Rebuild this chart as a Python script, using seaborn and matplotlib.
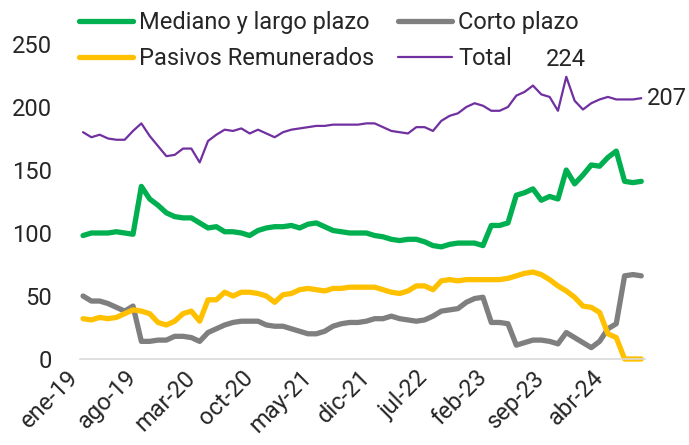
import numpy as np
import pandas as pd
import matplotlib
matplotlib.use("Agg")
import matplotlib.pyplot as plt
import seaborn as sns

# etiquetas del eje x (una cada 7 meses, desde ene-19)
tick_labels = ["ene-19", "ago-19", "mar-20", "oct-20", "may-21",
               "dic-21", "jul-22", "feb-23", "sep-23", "abr-24"]

# series mensuales ene-19 .. ago-24
mediano_largo = [98, 100, 100, 100, 101, 100, 99, 137, 127, 122,
                 116, 113, 112, 112, 108, 104, 105, 101, 101, 100,
                 98, 102, 104, 105, 105, 106, 104, 107, 108, 105,
                 102, 101, 100, 100, 100, 98, 97, 95, 94, 95,
                 95, 93, 90, 89, 91, 92, 92, 92, 90, 106,
                 106, 108, 130, 132, 135, 126, 129, 127, 150, 139,
                 146, 154, 153, 160, 165, 141, 140, 141]
corto = [50, 46, 46, 44, 41, 38, 42, 14, 14, 15,
         15, 18, 18, 17, 14, 21, 24, 27, 29, 30,
         30, 30, 27, 26, 26, 24, 22, 20, 20, 22,
         26, 28, 29, 29, 30, 32, 32, 34, 32, 31,
         30, 31, 34, 38, 39, 40, 45, 48, 49, 29,
         29, 28, 11, 13, 15, 15, 14, 12, 21, 17,
         13, 9, 14, 24, 28, 66, 67, 66]
pasivos = [32, 31, 33, 32, 33, 36, 39, 38, 36, 29,
           27, 30, 36, 38, 30, 47, 47, 53, 50, 53,
           53, 52, 50, 45, 51, 52, 55, 56, 55, 54,
           56, 56, 57, 57, 57, 57, 55, 53, 52, 54,
           58, 58, 55, 62, 63, 62, 63, 63, 63, 63,
           63, 64, 66, 68, 69, 67, 63, 58, 54, 49,
           42, 41, 37, 20, 17, 0, 0, 0]
total = [180, 176, 178, 175, 174, 174, 181, 187, 177, 169,
         161, 162, 167, 167, 156, 173, 178, 182, 181, 183,
         179, 182, 179, 176, 180, 182, 183, 184, 185, 185,
         186, 186, 186, 186, 187, 187, 184, 181, 180, 179,
         184, 184, 181, 189, 193, 195, 200, 203, 201, 197,
         197, 200, 209, 212, 217, 210, 208, 197, 224, 205,
         198, 203, 206, 208, 206, 206, 206, 207]

df = pd.DataFrame({
    "mes": np.arange(len(total)),
    "Mediano y largo plazo": mediano_largo,
    "Corto plazo": corto,
    "Pasivos Remunerados": pasivos,
    "Total": total,
})

sns.set_style("white")
plt.rcParams["font.family"] = ["Roboto", "DejaVu Sans"]

fig = plt.figure(figsize=(6.89, 4.45), dpi=100)
ax = fig.add_axes([79.7 / 689, (445 - 359) / 445, 564.9 / 689, 315 / 445])

estilos = [
    ("Mediano y largo plazo", "#00B050", 3.8),
    ("Corto plazo", "#7F7F7F", 3.8),
    ("Pasivos Remunerados", "#FFC000", 3.8),
    ("Total", "#7030A0", 1.6),
]
for nombre, color, lw in estilos:
    sns.lineplot(data=df, x="mes", y=nombre, color=color, linewidth=lw,
                 label=nombre, ax=ax, clip_on=False, solid_capstyle="round")

ax.set_xlim(-0.4, len(total) - 1 + 0.4)
ax.set_ylim(0, 250)
ax.set_yticks(np.arange(0, 251, 50))
ax.set_xticks(np.arange(0, 7 * len(tick_labels), 7))
ax.set_xticklabels(tick_labels, rotation=45, ha="right")
ax.set_xlabel("")
ax.set_ylabel("")
ax.tick_params(axis="y", length=0, pad=20, labelsize=17)
ax.tick_params(axis="x", length=0, pad=5, labelsize=17)

for s in ["top", "right", "left"]:
    ax.spines[s].set_visible(False)
ax.spines["bottom"].set_color("#D9D9D9")
ax.spines["bottom"].set_linewidth(1.2)

# etiquetas de datos
i_max = int(np.argmax(total))
ax.annotate(str(total[i_max]), xy=(i_max, total[i_max]), xytext=(0, 4),
            textcoords="offset points", ha="center", va="bottom", fontsize=17)
ax.annotate(str(total[-1]), xy=(len(total) - 1, total[-1]), xytext=(4, 0),
            textcoords="offset points", ha="left", va="center", fontsize=17,
            annotation_clip=False)

handles, labels = ax.get_legend_handles_labels()
ax.get_legend().remove()
orden = [0, 2, 1, 3]
fig.legend([handles[i] for i in orden], [labels[i] for i in orden],
           ncol=2, loc="upper left", bbox_to_anchor=(79 / 689, 1 - 11 / 445),
           frameon=False, fontsize=17, handlelength=2.3, handletextpad=0.25,
           columnspacing=1.0, labelspacing=0.55, borderpad=0, borderaxespad=0)

fig.savefig("out.png", dpi=100)
